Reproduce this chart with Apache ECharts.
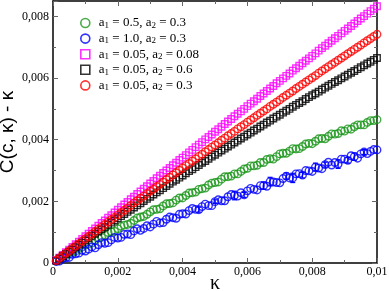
<!DOCTYPE html>
<html><head><meta charset="utf-8">
<script src="https://cdn.jsdelivr.net/npm/echarts@6/dist/echarts.min.js"></script>
<style>html,body{margin:0;padding:0;background:#fff}#c{width:389px;height:291px}</style>
</head><body><div id="c"></div>
<script>
const kappa = [
0.0001,0.0002,0.0003,0.0004,0.0005,0.0006,0.0007,0.0008,0.0009,0.0010,
0.0011,0.0012,0.0013,0.0014,0.0015,0.0016,0.0017,0.0018,0.0019,0.0020,
0.0021,0.0022,0.0023,0.0024,0.0025,0.0026,0.0027,0.0028,0.0029,0.0030,
0.0031,0.0032,0.0033,0.0034,0.0035,0.0036,0.0037,0.0038,0.0039,0.0040,
0.0041,0.0042,0.0043,0.0044,0.0045,0.0046,0.0047,0.0048,0.0049,0.0050,
0.0051,0.0052,0.0053,0.0054,0.0055,0.0056,0.0057,0.0058,0.0059,0.0060,
0.0061,0.0062,0.0063,0.0064,0.0065,0.0066,0.0067,0.0068,0.0069,0.0070,
0.0071,0.0072,0.0073,0.0074,0.0075,0.0076,0.0077,0.0078,0.0079,0.0080,
0.0081,0.0082,0.0083,0.0084,0.0085,0.0086,0.0087,0.0088,0.0089,0.0090,
0.0091,0.0092,0.0093,0.0094,0.0095,0.0096,0.0097,0.0098,0.0099,0.0100];

const seriesNames = ['s_a1_0.5_a2_0.3','s_a1_1.0_a2_0.3','s_a1_0.05_a2_0.08','s_a1_0.05_a2_0.6','s_a1_0.05_a2_0.3'];
const legendA1 = ['0.5','1.0','0.05','0.05','0.05'];
const legendA2 = ['0.3','0.3','0.08','0.6','0.3'];
const seriesColors = ['#1a961a','#0000ff','#ff00ff','#000000','#ff0000'];
const seriesSymbols = ['circle','circle','rect','rect','circle'];

const greenA = [
0.00006,0.00012,0.00016,0.00024,0.0003,0.00034,0.00039,0.00047,0.00052,0.00059,
0.00062,0.00065,0.00074,0.00081,0.00083,0.00091,0.00099,0.00101,0.00103,0.00111,
0.00119,0.00123,0.00125,0.00129,0.00138,0.00146,0.00149,0.00151,0.00158,0.00166,
0.00173,0.00174,0.00176,0.00185,0.00192,0.00193,0.00195,0.00204,0.00211,0.00211,
0.00219,0.00227,0.00228,0.0023,0.00239,0.00241,0.00243,0.00253,0.00259,0.00261,
0.00263,0.00272,0.0028,0.0028,0.00282,0.00289,0.00289,0.00297,0.00305,0.00307,
0.00315,0.00315,0.00317,0.00326,0.00326,0.00336,0.00338,0.00337,0.00345,0.00354,
0.00356,0.00356,0.00363,0.00371,0.0037,0.00371,0.00378,0.00386,0.00388,0.00387,
0.00395,0.00403,0.00404,0.00403,0.00411,0.00419,0.00418,0.0042,0.00429,0.00428,
0.00435,0.00434,0.00442,0.00448,0.00448,0.00448,0.00456,0.00462,0.00462,0.00465];

const blueB = [
0.00005,0.00006,0.00014,0.00017,0.00018,0.00028,0.0003,0.00032,0.00041,0.00039,
0.00045,0.00052,0.00049,0.00059,0.00066,0.00064,0.00066,0.00075,0.00083,0.00081,
0.00083,0.00093,0.00094,0.00092,0.00104,0.00111,0.00106,0.00112,0.00121,0.00117,
0.00126,0.00135,0.0013,0.00131,0.00142,0.00149,0.00147,0.00145,0.00158,0.0016,
0.00159,0.0017,0.00177,0.00174,0.00173,0.00183,0.00191,0.00186,0.00186,0.00199,
0.00205,0.00202,0.00202,0.00215,0.00222,0.00219,0.00217,0.00228,0.00221,0.00234,
0.00242,0.00239,0.00237,0.00251,0.00251,0.00249,0.00264,0.00263,0.00261,0.0026,
0.00274,0.00282,0.00276,0.00276,0.00289,0.0029,0.00285,0.003,0.00299,0.00297,
0.00311,0.00308,0.00306,0.00319,0.00327,0.00318,0.00326,0.00321,0.00337,0.00337,
0.00333,0.00348,0.00345,0.0034,0.00354,0.0036,0.00355,0.00362,0.00368,0.00367];

const blueErr = [
0,0,0,0,0,0,0,0,0,0,
0,0,0,0,0,0,0,0,0,0,
0,0,0,0,0,0,0,0,0,0,
0,0,0,0,0,0,0,0,0,0,
0,0,0,0,0.00008,0,0,0,0,0.00006,
0,0,0,0,0,0.00014,0,0,0.00008,0,
0,0,0,0,0.00012,0,0.00014,0,0,0,
0,0.0001,0,0.00015,0,0,0.00009,0,0,0,
0.00013,0,0,0.00008,0,0,0,0.00014,0,0,
0.00009,0,0.00012,0,0,0.00008,0,0,0,0];

const magentaC = [
0.00009,0.00017,0.00026,0.00035,0.00043,0.00052,0.00061,0.00069,0.00078,0.00087,
0.00095,0.00104,0.00112,0.00121,0.0013,0.00138,0.00147,0.00155,0.00164,0.00173,
0.00181,0.0019,0.00198,0.00207,0.00215,0.00224,0.00232,0.00241,0.00249,0.00258,
0.00266,0.00275,0.00283,0.00292,0.003,0.00308,0.00317,0.00325,0.00334,0.00342,
0.0035,0.00359,0.00367,0.00376,0.00384,0.00392,0.00401,0.00409,0.00417,0.00426,
0.00434,0.00442,0.00451,0.00459,0.00467,0.00476,0.00484,0.00492,0.005,0.00509,
0.00517,0.00525,0.00533,0.00542,0.0055,0.00558,0.00566,0.00574,0.00583,0.00591,
0.00599,0.00607,0.00615,0.00624,0.00632,0.0064,0.00648,0.00656,0.00664,0.00672,
0.0068,0.00689,0.00697,0.00705,0.00713,0.00721,0.00729,0.00737,0.00745,0.00753,
0.00761,0.00769,0.00777,0.00785,0.00793,0.00801,0.00809,0.00817,0.00825,0.00833];

const blackD = [
0.00007,0.00015,0.00022,0.00029,0.00037,0.00044,0.00051,0.00059,0.00066,0.00073,
0.0008,0.00088,0.00095,0.00102,0.00109,0.00116,0.00124,0.00131,0.00138,0.00145,
0.00152,0.00159,0.00166,0.00173,0.0018,0.00187,0.00194,0.00201,0.00208,0.00215,
0.00222,0.00229,0.00236,0.00243,0.0025,0.00257,0.00264,0.0027,0.00277,0.00284,
0.00291,0.00298,0.00304,0.00311,0.00318,0.00325,0.00331,0.00338,0.00345,0.00351,
0.00358,0.00365,0.00371,0.00378,0.00384,0.00391,0.00397,0.00404,0.0041,0.00417,
0.00423,0.0043,0.00436,0.00443,0.00449,0.00456,0.00462,0.00469,0.00475,0.00481,
0.00488,0.00494,0.005,0.00507,0.00513,0.00519,0.00525,0.00532,0.00538,0.00544,
0.0055,0.00556,0.00563,0.00569,0.00575,0.00581,0.00587,0.00593,0.00599,0.00605,
0.00611,0.00617,0.00623,0.00629,0.00635,0.00641,0.00647,0.00653,0.00659,0.00665];

const redE = [
0.00008,0.00016,0.00024,0.00032,0.00039,0.00047,0.00055,0.00063,0.00071,0.00079,
0.00086,0.00094,0.00102,0.0011,0.00117,0.00125,0.00133,0.00141,0.00148,0.00156,
0.00164,0.00171,0.00179,0.00187,0.00195,0.00202,0.0021,0.00217,0.00225,0.00233,
0.0024,0.00248,0.00255,0.00263,0.00271,0.00278,0.00286,0.00293,0.00301,0.00308,
0.00316,0.00323,0.00331,0.00338,0.00346,0.00353,0.00361,0.00368,0.00376,0.00383,
0.0039,0.00398,0.00405,0.00413,0.0042,0.00427,0.00435,0.00442,0.00449,0.00457,
0.00464,0.00471,0.00479,0.00486,0.00493,0.005,0.00508,0.00515,0.00522,0.00529,
0.00537,0.00544,0.00551,0.00558,0.00566,0.00573,0.0058,0.00587,0.00594,0.00601,
0.00608,0.00616,0.00623,0.0063,0.00637,0.00644,0.00651,0.00658,0.00665,0.00672,
0.00679,0.00686,0.00693,0.007,0.00707,0.00714,0.00721,0.00728,0.00735,0.00742];

const xTickLabels = ['0','0,002','0,004','0,006','0,008','0,01'];
const yTickLabels = ['0','0,002','0,004','0,006','0,008'];
const xTitle = 'κ';
const yTitle = 'C(c, κ) - κ';

const allY = [greenA, blueB, magentaC, blackD, redE];

const chart = echarts.init(document.getElementById('c'), null, {renderer:'canvas'});

function tickFmt(labels){
  return function(v){
    const k = v / 0.002;
    const r = Math.round(k);
    if (Math.abs(k - r) > 1e-6) return '';
    return labels[r] !== undefined ? labels[r] : '';
  };
}

const serif = 'Liberation Serif';
const sans = 'Liberation Sans';

const scatterSeries = allY.map((ys, s) => ({
  name: seriesNames[s],
  type: 'scatter',
  symbol: seriesSymbols[s],
  symbolSize: seriesSymbols[s] === 'rect' ? 6.5 : 7.5,
  itemStyle: {color: 'rgba(0,0,0,0)', borderColor: seriesColors[s], borderWidth: 1.4},
  emphasis: {disabled: true},
  data: kappa.map((k, i) => [k, ys[i]]),
  z: 2 + s
}));

const errData = kappa.map((k, i) => [k, blueB[i], blueErr[i]]).filter(d => d[2] > 0);

const errSeries = {
  type: 'custom',
  silent: true,
  z: 3,
  data: errData,
  encode: {x: 0, y: 1},
  renderItem: function(params, api){
    const x = api.value(0), y = api.value(1), e = api.value(2);
    const lo = api.coord([x, y - e]);
    const hi = api.coord([x, y + e]);
    const w = 2.5;
    const st = {stroke: '#0000ff', lineWidth: 1.2};
    return {type: 'group', children: [
      {type: 'line', shape: {x1: lo[0], y1: lo[1], x2: hi[0], y2: hi[1]}, style: st},
      {type: 'line', shape: {x1: lo[0]-w, y1: lo[1], x2: lo[0]+w, y2: lo[1]}, style: st},
      {type: 'line', shape: {x1: hi[0]-w, y1: hi[1], x2: hi[0]+w, y2: hi[1]}, style: st}
    ]};
  }
};

const legendData = seriesNames.map((n, s) => ({name: n, icon: seriesSymbols[s]}));

const axisCommon = {
  axisLine: {onZero: false, lineStyle: {color: '#000', width: 1.5}},
  axisTick: {inside: true, length: 5, lineStyle: {color: '#666', width: 1}},
  minorTick: {show: true, splitNumber: 2, length: 3, lineStyle: {color: '#666', width: 1}},
  splitLine: {show: false}
};

chart.setOption({
  animation: false,
  backgroundColor: '#fff',
  grid: {left: 53, right: 12, top: 1, bottom: 28, containLabel: false, outerBoundsMode: 'none'},
  legend: {
    orient: 'vertical',
    left: 80,
    top: 16,
    padding: 0,
    itemWidth: 9,
    itemHeight: 9,
    itemGap: 1.6,
    data: legendData,
    itemStyle: {borderWidth: 1.6},
    selectedMode: false,
    formatter: function(name){
      const s = seriesNames.indexOf(name);
      return '{g|}{n|a}{s|1}{n| = ' + legendA1[s] + ', a}{s|2}{n| = ' + legendA2[s] + '}';
    },
    textStyle: {
      fontFamily: serif, fontSize: 13, color: '#000',
      rich: {
        g: {width: 4},
        n: {fontFamily: serif, fontSize: 13, color: '#000', lineHeight: 14},
        s: {fontFamily: serif, fontSize: 9, color: '#000', lineHeight: 9, verticalAlign: 'bottom', padding: [5, 0, 0, 0]}
      }
    }
  },
  xAxis: [
    Object.assign({
      type: 'value', min: 0, max: 0.01, interval: 0.002, position: 'bottom',
      axisLabel: {formatter: tickFmt(xTickLabels), fontFamily: serif, fontSize: 12, color: '#000', margin: 3},
      name: xTitle, nameLocation: 'middle', nameGap: 11, nameMoveOverlap: false,
      nameTextStyle: {fontFamily: serif, fontSize: 20, color: '#000'}
    }, axisCommon),
    Object.assign({
      type: 'value', min: 0, max: 0.01, interval: 0.002, position: 'top',
      axisLabel: {show: false}
    }, axisCommon)
  ],
  yAxis: [
    Object.assign({
      type: 'value', min: 0, max: 0.0085, interval: 0.002, position: 'left',
      axisLabel: {formatter: tickFmt(yTickLabels), fontFamily: serif, fontSize: 12, color: '#000', margin: 4, showMaxLabel: false},
      name: yTitle, nameLocation: 'middle', nameGap: 36, nameRotate: 90, nameMoveOverlap: false,
      nameTextStyle: {fontFamily: sans, fontSize: 19, color: '#000'}
    }, axisCommon),
    Object.assign({
      type: 'value', min: 0, max: 0.0085, interval: 0.002, position: 'right',
      axisLabel: {show: false}
    }, axisCommon)
  ],
  series: scatterSeries.concat([errSeries])
});
</script>
</body></html>
